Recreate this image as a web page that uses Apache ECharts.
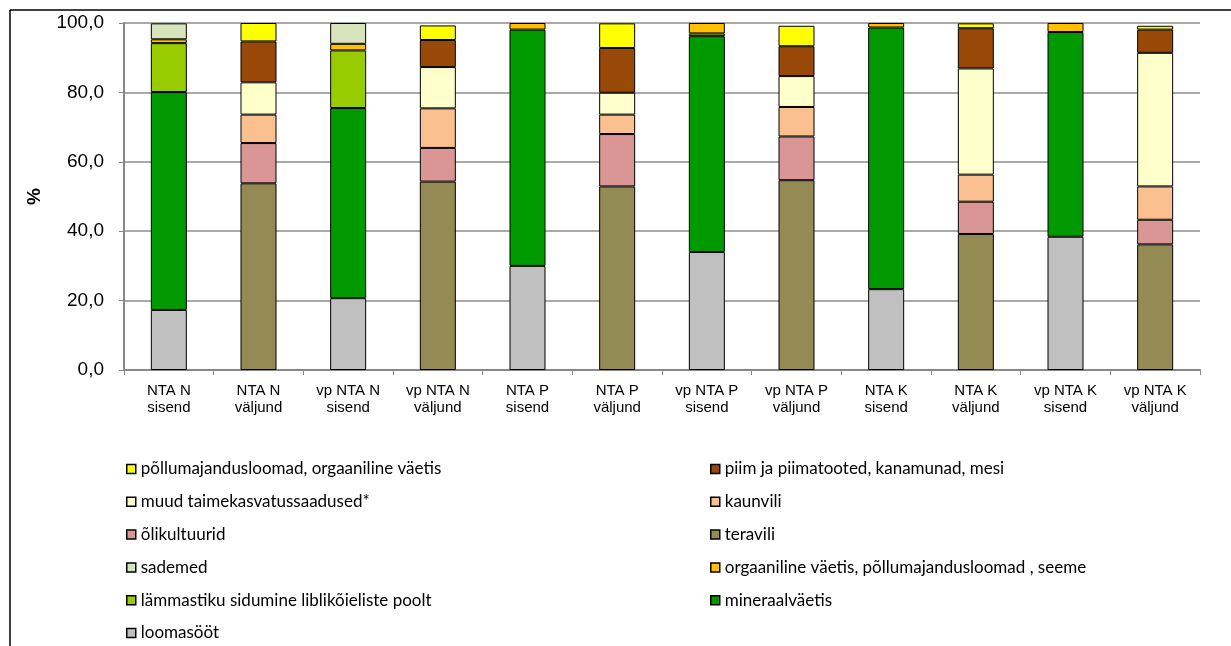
<!DOCTYPE html>
<html>
<head>
<meta charset="utf-8">
<script src="https://cdn.jsdelivr.net/npm/echarts@6/dist/echarts.min.js"></script>
<style>
html,body{margin:0;padding:0;background:#fff;}
#c{width:1231px;height:646px;}
</style>
</head>
<body>
<div id="c"></div>
<script>
var categories = ['NTA N\nsisend','NTA N\nväljund','vp NTA N\nsisend','vp NTA N\nväljund','NTA P\nsisend','NTA P\nväljund','vp NTA P\nsisend','vp NTA P\nväljund','NTA K\nsisend','NTA K\nväljund','vp NTA K\nsisend','vp NTA K\nväljund'];
var yTicks = [0, 20, 40, 60, 80, 100];

// series, bottom to top of the stack
var loomasoot      = [17.3, 0, 20.7, 0, 30.0, 0, 34.0, 0, 23.3, 0, 38.4, 0];
var mineraalvaetis = [62.8, 0, 54.8, 0, 68.1, 0, 62.2, 0, 75.4, 0, 59.0, 0];
var lammastiku     = [14.1, 0, 16.6, 0, 0, 0, 0.8, 0, 0, 0, 0, 0];
var orgaaniline    = [1.1, 0, 1.9, 0, 1.9, 0, 3.0, 0, 1.3, 0, 2.6, 0];
var sademed        = [4.6, 0, 6.0, 0, 0, 0, 0, 0, 0, 0, 0, 0];
var teravili       = [0, 53.8, 0, 54.3, 0, 52.9, 0, 54.7, 0, 39.2, 0, 36.2];
var olikultuurid   = [0, 11.6, 0, 9.7, 0, 15.1, 0, 12.6, 0, 9.3, 0, 7.1];
var kaunvili       = [0, 8.2, 0, 11.4, 0, 5.6, 0, 8.5, 0, 7.8, 0, 9.6];
var muud           = [0, 9.3, 0, 11.9, 0, 6.3, 0, 8.9, 0, 30.6, 0, 38.5];
var piim           = [0, 11.8, 0, 7.8, 0, 12.9, 0, 8.6, 0, 11.6, 0, 6.7];
var pollumajandus  = [0, 5.3, 0, 4.2, 0, 7.1, 0, 5.9, 0, 1.4, 0, 1.1];

var seriesDefs = [
  ['loomasööt', loomasoot, '#C0C0C0'],
  ['mineraalväetis', mineraalvaetis, '#009900'],
  ['lämmastiku sidumine liblikõieliste poolt', lammastiku, '#99CC00'],
  ['orgaaniline väetis, põllumajandusloomad , seeme', orgaaniline, '#FFC000'],
  ['sademed', sademed, '#D8E4BC'],
  ['teravili', teravili, '#948A54'],
  ['õlikultuurid', olikultuurid, '#D99694'],
  ['kaunvili', kaunvili, '#FAC090'],
  ['muud taimekasvatussaadused*', muud, '#FFFFCC'],
  ['piim ja piimatooted, kanamunad, mesi', piim, '#984807'],
  ['põllumajandusloomad, orgaaniline väetis', pollumajandus, '#FFFF00']
];

var legendLeft = ['põllumajandusloomad, orgaaniline väetis','muud taimekasvatussaadused*','õlikultuurid','sademed','lämmastiku sidumine liblikõieliste poolt','loomasööt'];
var legendRight = ['piim ja piimatooted, kanamunad, mesi','kaunvili','teravili','orgaaniline väetis, põllumajandusloomad , seeme','mineraalväetis'];

var series = seriesDefs.map(function(d){
  return {
    name: d[0],
    type: 'bar',
    stack: 'total',
    barWidth: 36,
    data: d[1].map(function(v){ return v === 0 ? '-' : v; }),
    itemStyle: { color: d[2], borderColor: '#000', borderWidth: 1 },
    emphasis: { disabled: true }
  };
});

var legendCommon = {
  orient: 'vertical',
  icon: 'rect',
  itemWidth: 9,
  itemHeight: 9,
  itemGap: 12.8,
  top: 459,
  height: 200,
  padding: 0,
  selectedMode: false,
  itemStyle: { borderColor: '#000', borderWidth: 1.5 },
  textStyle: { fontFamily: 'Lato', fontSize: 17, color: '#000', lineHeight: 20 }
};

var chart = echarts.init(document.getElementById('c'), null, { renderer: 'canvas' });
chart.setOption({
  animation: false,
  backgroundColor: '#fff',
  grid: { left: 124, right: 31, top: 23, bottom: 276, containLabel: false },
  legend: [
    Object.assign({}, legendCommon, { left: 126, data: legendLeft }),
    Object.assign({}, legendCommon, { left: 710, data: legendRight })
  ],
  xAxis: {
    type: 'category',
    data: categories,
    axisLine: { lineStyle: { color: '#888', width: 2 } },
    axisTick: { show: true, length: 5, inside: false, alignWithLabel: false, lineStyle: { color: '#888', width: 1 } },
    axisLabel: { color: '#000', fontFamily: 'Liberation Sans', fontSize: 15, lineHeight: 17, margin: 12, interval: 0 }
  },
  yAxis: {
    type: 'value',
    min: 0, max: 100, interval: 20,
    name: '%',
    nameLocation: 'middle',
    nameGap: 80,
    nameRotate: 90,
    nameTextStyle: { color: '#000', fontFamily: 'Liberation Sans', fontSize: 19, fontWeight: 'bold' },
    axisLine: { show: true, lineStyle: { color: '#888', width: 2 } },
    axisTick: { show: true, length: 5, lineStyle: { color: '#888', width: 1 } },
    splitLine: { lineStyle: { color: '#8c8c8c', width: 1.5 } },
    axisLabel: {
      color: '#000', fontFamily: 'Liberation Sans', fontSize: 19, margin: 20,
      formatter: function(v){ return yTicks.indexOf(v) >= 0 ? v.toFixed(1).replace('.', ',') : ''; }
    }
  },
  graphic: [
    { type: 'line', shape: { x1: 10, y1: 10, x2: 1231, y2: 10 }, style: { stroke: '#000', lineWidth: 1.5 }, silent: true },
    { type: 'line', shape: { x1: 10, y1: 10, x2: 10, y2: 646 }, style: { stroke: '#000', lineWidth: 1.5 }, silent: true }
  ],
  series: series
});
</script>
</body>
</html>
